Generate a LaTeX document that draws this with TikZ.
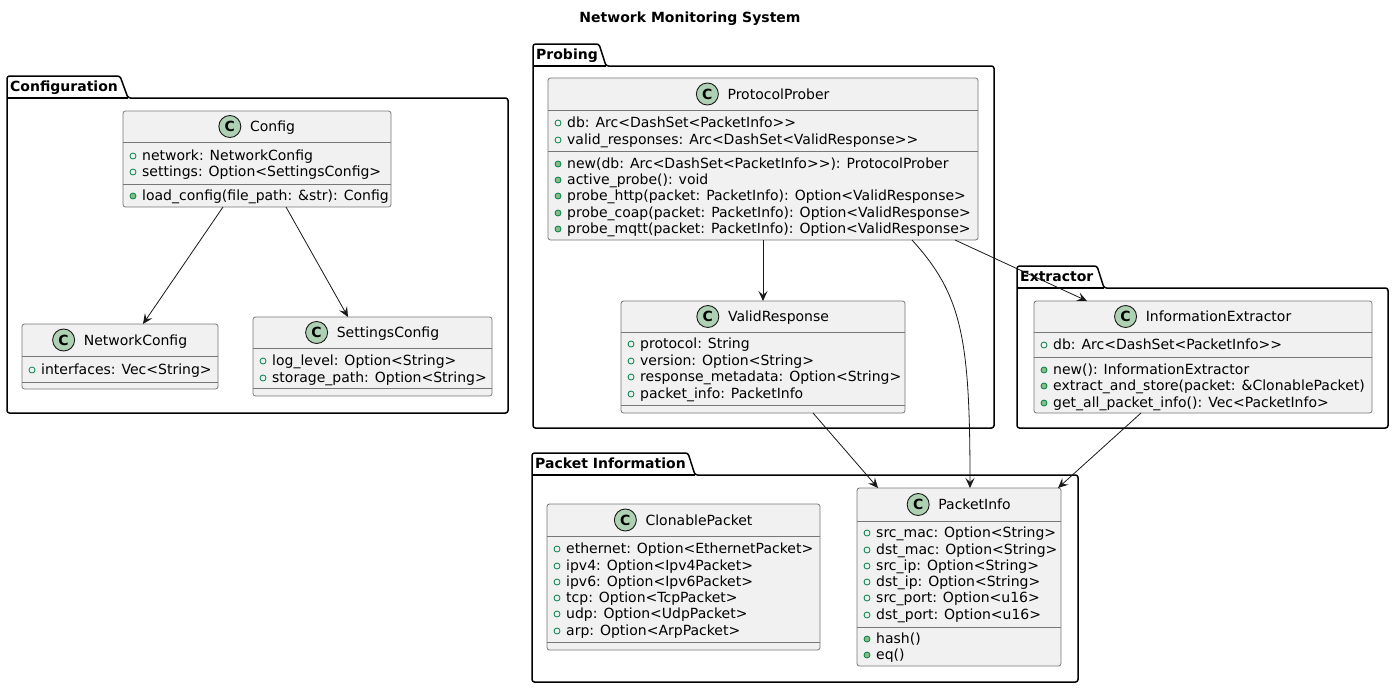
\documentclass[tikz,border=0pt]{standalone}
\usepackage{fontspec}
\setmainfont{DejaVu Sans}
\usetikzlibrary{arrows.meta,calc}
\definecolor{clsfill}{HTML}{F1F1F1}
\definecolor{clsline}{HTML}{181818}
\definecolor{clsborder}{HTML}{777777}
\definecolor{spotfill}{HTML}{ADD1B2}
\definecolor{visline}{HTML}{038048}
\definecolor{visfill}{HTML}{84BE84}
\newcount\rowno
\tikzset{
  clsbox/.style={draw=clsborder, fill=clsfill, line width=0.8pt, rounded corners=2.5pt, inner sep=0pt, outer sep=0pt, rectangle},
  clsl/.style={draw=clsborder, line width=0.8pt},
  spotc/.style={circle, draw=clsline, fill=spotfill, line width=0.9pt, minimum size=22pt, inner sep=0pt, font=\fontsize{14}{16}\selectfont\bfseries},
  rowtxt/.style={anchor=base west, inner sep=0pt},
  hdrtxt/.style={anchor=base, inner sep=0pt},
  fldicon/.style={draw=visline, line width=0.8pt},
  mthicon/.style={draw=visline, fill=visfill, line width=0.8pt},
  pkgline/.style={draw=black, line width=1.5pt, rounded corners=2.5pt, fill=white},
  pkglabel/.style={anchor=base west, inner sep=0pt, font=\fontsize{14}{16}\selectfont\bfseries},
  arr/.style={draw=clsline, line width=0.8pt, -{Stealth[length=10pt, width=9pt, inset=4pt]}},
}
% #1 id, #2 title, #3 x1, #4 y1, #5 x2, #6 y2, #7 header line y, #8 separator y
\newcommand\umlcls[8]{%
  \node[clsbox, minimum width={#5-#3}, minimum height={#6-#4}, anchor=north west] (#1) at (#3,#4) {};
  \draw[clsl] (#3,#7) -- (#5,#7);
  \draw[clsl] (#3,#8) -- (#5,#8);
  \node[hdrtxt] (#1-t) at ({(#3+#5)/2+15.5},{(#4+#7)/2+5}) {#2};
  \node[spotc] (#1-c) at ($(#1-t.base west)+(-20,-5)$) {C};
}
\newcommand\fld[3]{%
  \global\advance\rowno by 1
  \draw[fldicon] (#1+10,#2+1) circle (3pt);
  \node[rowtxt] (row\the\rowno) at (#1+19,#2+5) {#3};
}
\newcommand\mth[3]{%
  \global\advance\rowno by 1
  \draw[mthicon] (#1+10,#2+1) circle (3pt);
  \node[rowtxt] (row\the\rowno) at (#1+19,#2+5) {#3};
}
% #1 id, #2 label, #3 x1, #4 tab top, #5 tab right top, #6 tab right bottom, #7 body top, #8 x2, #9 y2
\newcommand\pkg[9]{%
  \draw[pkgline] (#3,#7) -- (#3,#4) -- (#5,#4) -- (#6,#7) -- (#8,#7) -- (#8,#9) -- (#3,#9) -- cycle;
  \draw[draw=black, line width=1.5pt] (#3,#7) -- (#6,#7);
  \node[pkglabel] (#1) at (#3+3,#4+15) {#2};
}
\begin{document}
\begin{tikzpicture}[x=1pt, y=-1pt, font=\fontsize{14}{16}\selectfont]
\useasboundingbox (0,0) rectangle (1394,688);

\node[anchor=base, inner sep=0pt, font=\fontsize{14}{16}\selectfont\bfseries] (title) at (690,23) {Network Monitoring System};

% packages
\pkg{pkgconf}{Configuration}{7}{76}{120}{128}{98}{508}{413}
\pkg{pkgprob}{Probing}{533}{44}{599}{606}{66}{994}{428}
\pkg{pkgextr}{Extractor}{1017}{266}{1097}{1104}{288}{1388}{428}
\pkg{pkginfo}{Packet Information}{532}{453}{688}{695}{475}{1078}{682}

% Configuration
\umlcls{config}{Config}{123}{111}{391}{207}{142}{184}
\fld{123}{155}{network: NetworkConfig}
\fld{123}{171}{settings: Option<SettingsConfig>}
\mth{123}{195}{load\_config(file\_path: \&str): Config}

\umlcls{networkconfig}{NetworkConfig}{22}{324}{218}{389}{356}{382}
\fld{22}{369}{interfaces: Vec<String>}

\umlcls{settingsconfig}{SettingsConfig}{253}{317}{492}{396}{348}{388}
\fld{253}{360}{log\_level: Option<String>}
\fld{253}{377}{storage\_path: Option<String>}

% Probing
\umlcls{prober}{ProtocolProber}{548}{78}{978}{240}{110}{151}
\fld{548}{122}{db: Arc<DashSet<PacketInfo>{}>}
\fld{548}{139}{valid\_responses: Arc<DashSet<ValidResponse>{}>}
\mth{548}{163}{new(db: Arc<DashSet<PacketInfo>{}>): ProtocolProber}
\mth{548}{179}{active\_probe(): void}
\mth{548}{195}{probe\_http(packet: PacketInfo): Option<ValidResponse>}
\mth{548}{212}{probe\_coap(packet: PacketInfo): Option<ValidResponse>}
\mth{548}{228}{probe\_mqtt(packet: PacketInfo): Option<ValidResponse>}

\umlcls{validresp}{ValidResponse}{621}{301}{905}{413}{332}{405}
\fld{621}{343}{protocol: String}
\fld{621}{360}{version: Option<String>}
\fld{621}{376}{response\_metadata: Option<String>}
\fld{621}{393}{packet\_info: PacketInfo}

% Extractor
\umlcls{extractor}{InformationExtractor}{1034}{301}{1372}{413}{332}{357}
\fld{1034}{344}{db: Arc<DashSet<PacketInfo>{}>}
\mth{1034}{369}{new(): InformationExtractor}
\mth{1034}{385}{extract\_and\_store(packet: \&ClonablePacket)}
\mth{1034}{402}{get\_all\_packet\_info(): Vec<PacketInfo>}

% Packet Information
\umlcls{clonable}{ClonablePacket}{547}{504}{820}{650}{536}{642}
\fld{547}{548}{ethernet: Option<EthernetPacket>}
\fld{547}{565}{ipv4: Option<Ipv4Packet>}
\fld{547}{581}{ipv6: Option<Ipv6Packet>}
\fld{547}{597}{tcp: Option<TcpPacket>}
\fld{547}{613}{udp: Option<UdpPacket>}
\fld{547}{630}{arp: Option<ArpPacket>}

\umlcls{packetinfo}{PacketInfo}{857}{488}{1061}{666}{521}{627}
\fld{857}{532}{src\_mac: Option<String>}
\fld{857}{549}{dst\_mac: Option<String>}
\fld{857}{565}{src\_ip: Option<String>}
\fld{857}{581}{dst\_ip: Option<String>}
\fld{857}{597}{src\_port: Option<u16>}
\fld{857}{614}{dst\_port: Option<u16>}
\mth{857}{638}{hash()}
\mth{857}{654}{eq()}

% connectors
\draw[arr] ($(config.south west)+(100,0)$) -- ($(networkconfig.north west)+(121,0)$);
\draw[arr] ($(config.south west)+(163,0)$) -- ($(settingsconfig.north west)+(95,0)$);
\draw[arr] ($(prober.south west)+(215,0)$) -- ($(validresp.north west)+(142,0)$);
\draw[arr] ($(prober.south west)+(364,0)$) .. controls +(50,55) and +(0,-150) .. ($(packetinfo.north west)+(113,0)$);
\draw[arr] ($(prober.south west)+(407,0)$) -- ($(extractor.north west)+(53,0)$);
\draw[arr] ($(validresp.south west)+(192,0)$) -- ($(packetinfo.north west)+(21,0)$);
\draw[arr] ($(extractor.south west)+(107,0)$) -- ($(packetinfo.north west)+(201,0)$);
\end{tikzpicture}
\end{document}
